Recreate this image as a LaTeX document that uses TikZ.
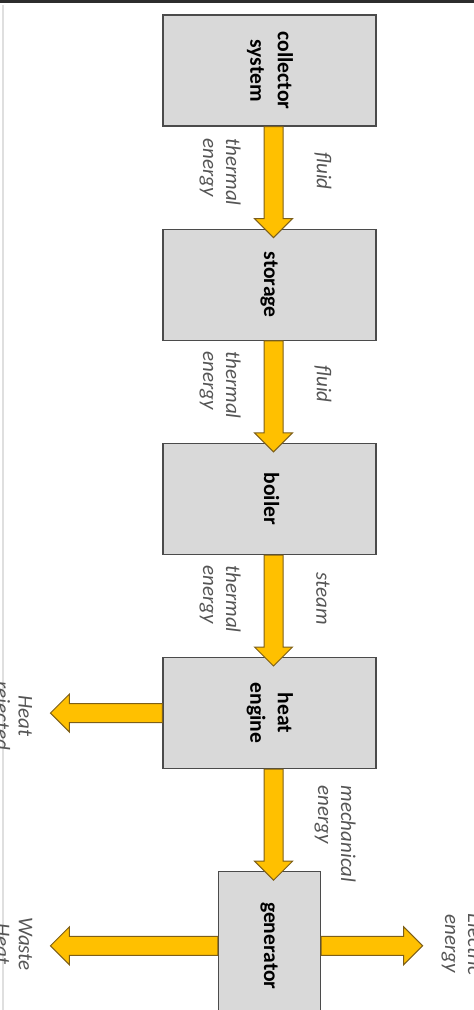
\documentclass[tikz,border=0pt]{standalone}
\usepackage{fontspec}
\setmainfont{Carlito}
\usepackage{graphicx}
\usetikzlibrary{calc,positioning}
\definecolor{boxfill}{RGB}{217,217,217}
\definecolor{boxline}{RGB}{75,75,75}
\definecolor{gold}{RGB}{255,192,0}
\definecolor{goldline}{RGB}{125,95,25}
\definecolor{lblgray}{RGB}{85,85,85}
\definecolor{topbar}{RGB}{45,45,45}

\newcommand{\boxtxt}{\fontsize{10.8}{13.75}\selectfont\bfseries}
\newcommand{\lbltxt}{\fontsize{10.5}{11.5}\selectfont\itshape}
\newcommand{\vtext}[1]{\rotatebox{-90}{\begin{tabular}{@{}c@{}}#1\end{tabular}}}
% block arrow from #1 to tip #2
\newcommand{\flowarrow}[2]{%
  \coordinate (fa-s) at #1;
  \coordinate (fa-t) at #2;
  \coordinate (fa-h) at ($(fa-t)!9.5pt!(fa-s)$);
  \draw[flow] ($(fa-s)!4.75pt!90:(fa-t)$) -- ($(fa-h)!4.75pt!90:(fa-t)$)
    -- ($(fa-h)!9.5pt!90:(fa-t)$) -- (fa-t) -- ($(fa-h)!9.5pt!-90:(fa-t)$)
    -- ($(fa-h)!4.75pt!-90:(fa-t)$) -- ($(fa-s)!4.75pt!-90:(fa-t)$) -- cycle;
}

\begin{document}
\begin{tikzpicture}[x=0.5pt, y=-0.5pt,
    box/.style={draw=boxline, fill=boxfill, line width=0.6pt, inner sep=0pt,
                minimum width=106.5pt, minimum height=55.5pt, font=\boxtxt},
    flow/.style={fill=gold, draw=goldline, line width=0.5pt, line join=miter},
    lbl/.style={rotate=-90, font=\lbltxt, text=lblgray, align=center, inner sep=0pt},
    node distance=51pt]

    \path[use as bounding box, clip] (0,0) rectangle (474,1010);
    \fill[topbar] (0,0) rectangle (474,3);
    \draw[gray!25, line width=1pt] (3,5) -- (3,1010);

    % blocks
    \node[box] (coll) at (269.5,70.5) {\vtext{collector\\system}};
    \node[box, below=of coll] (stor) {\vtext{storage}};
    \node[box, below=of stor] (boil) {\vtext{boiler}};
    \node[box, below=of boil] (eng) {\vtext{heat\\engine}};
    \node[box, below=of eng, minimum width=51pt, minimum height=74pt] (gen) {\vtext{generator}};

    % flows down the chain
    \flowarrow{([xshift=2pt]coll.south)}{([xshift=2pt,yshift=-4.5pt]stor.north)}
    \flowarrow{([xshift=2pt]stor.south)}{([xshift=2pt,yshift=-4.5pt]boil.north)}
    \flowarrow{([xshift=2pt]boil.south)}{([xshift=2pt,yshift=-4.5pt]eng.north)}
    \flowarrow{([xshift=2pt]eng.south)}{([xshift=2pt,yshift=-4.5pt]gen.north)}

    % flows leaving the system
    \coordinate (rej) at ([xshift=-56pt]eng.west);
    \coordinate (waste) at ([xshift=-83.75pt]gen.west);
    \coordinate (elec) at ([xshift=50.75pt]gen.east);
    \flowarrow{(eng.west)}{(rej)}
    \flowarrow{(gen.west)}{(waste)}
    \flowarrow{(gen.east)}{(elec)}

    % labels
    \node[lbl, align=left] (th1) at (220,172) {thermal\\energy};
    \node[lbl] (fl1) at (323,171) {fluid};
    \node[lbl, align=left] (th2) at (220,385) {thermal\\energy};
    \node[lbl] (fl2) at (323,384) {fluid};
    \node[lbl, align=left] (th3) at (220,599) {thermal\\energy};
    \node[lbl] (st3) at (323,599) {steam};
    \node[lbl, align=left] (mech) at (335,834) {mechanical\\energy};
    \node[lbl] (hrej) at (12,716) {Heat\\rejected};
    \node[lbl] (wheat) at (14,944) {Waste\\Heat};
    \node[lbl] (eout) at (462,944) {Electric\\energy};
\end{tikzpicture}
\end{document}
